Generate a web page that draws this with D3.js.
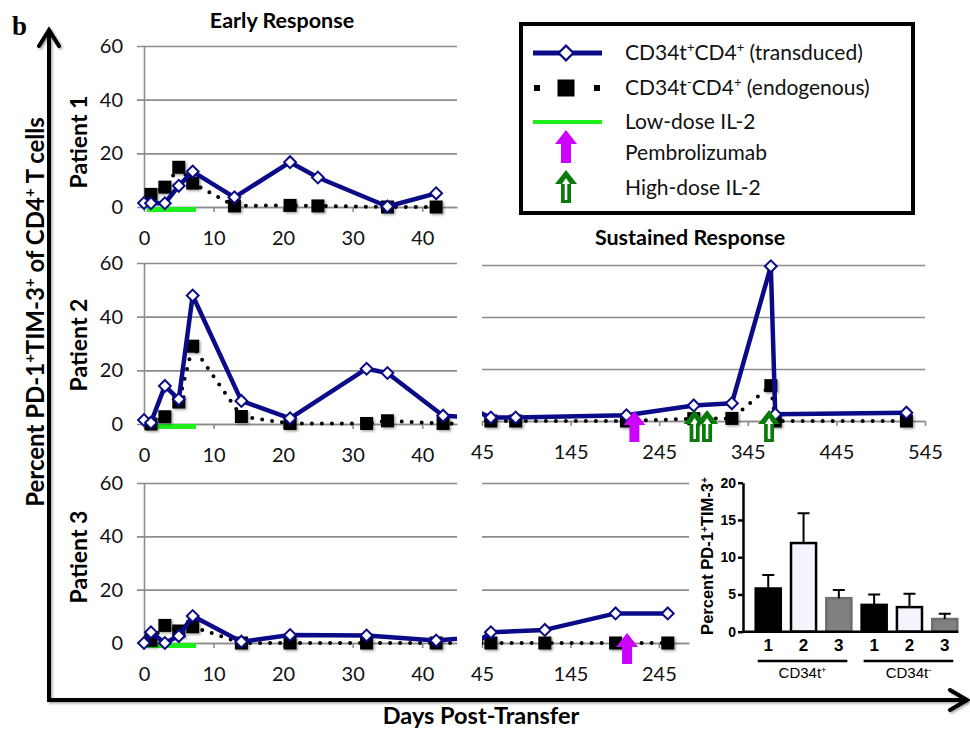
<!DOCTYPE html>
<html>
<head>
<meta charset="utf-8">
<script src="https://cdn.jsdelivr.net/npm/d3@7"></script>
<style>
  body { margin: 0; background: #fff; }
  svg { display: block; font-family: Lato, sans-serif; }
</style>
</head>
<body>
<svg width="970" height="731"></svg>
<script>
// ---- data ----
const yTicks = [0, 20, 40, 60];
const earlyTicks = [0, 10, 20, 30, 40];
const sustainedTicks = [45, 145, 245, 345, 445, 545];
const sustainedTicksP3 = [45, 145, 245];

const p1Days = [0, 1, 3, 5, 7, 13, 21, 25, 35, 42];
const p1Transduced = [1.5, 1.4, 1.4, 7.9, 13.2, 3.6, 16.7, 11, 0.2, 5.1];
const p1Endogenous = [null, 4.7, 7.4, 14.8, 8.9, 0.4, 0.6, 0.4, 0, 0];

const p2Days = [0, 1, 3, 5, 7, 14, 21, 32, 35, 43, 55, 83, 208, 284, 327, 371, 376, 524];
const p2Transduced = [1.5, 0.5, 14.2, 9.2, 47.9, 8.6, 2.1, 20.6, 19, 3.1, 1.3, 1.3, 2.2, 6.0, 6.8, 59.5, 2.6, 3.2];
const p2Endogenous = [null, 0, 2.7, 8.2, 29, 2.8, 0.2, 0.2, 1.2, 0.2, 0, 0, 0, 0.9, 1.0, 13.6, 0, 0];

const p3Days = [0, 1, 3, 5, 7, 14, 21, 32, 42, 55, 116, 196, 255];
const p3Transduced = [0, 4.0, 0, 2.6, 10.1, 0.5, 3.0, 2.8, 0.9, 4.0, 4.9, 11.1, 11.1];
const p3Endogenous = [null, 1, 6.6, 4.5, 6.1, 0, 0, 0, 0, 0, 0, 0, 0];

const lowDoseIL2 = [0.4, 7.5];            // days
const p2Pembrolizumab = [217];
const p2HighDoseIL2 = [285, 299, 369];
const p3Pembrolizumab = [209];

const barLabels = ['1', '2', '3', '1', '2', '3'];
const barMeans = [5.8, 11.9, 4.5, 3.6, 3.3, 1.7];
const barSem = [1.8, 4.0, 1.1, 1.4, 1.8, 0.7];
const barTicks = [0, 5, 10, 15, 20];
const barGroups = [['CD34t', '+', 0, 2], ['CD34t', '-', 3, 5]];

const legendLabels = [
  [['CD34t'], ['+', 1], ['CD4'], ['+', 1], [' (transduced)']],
  [['CD34t'], ['-', 1], ['CD4'], ['+', 1], [' (endogenous)']],
  [['Low-dose IL-2']],
  [['Pembrolizumab']],
  [['High-dose IL-2']]
];

// ---- styles ----
const NAVY = '#0b0b88';
const GRID = '#8c8c8c';
const GREEN = '#1ef01e';
const MAGENTA = '#cc00ff';
const DKGREEN = '#0a7a0a';

const svg = d3.select('svg');
const defs = svg.append('defs');
defs.append('filter').attr('id', 'shadow')
    .attr('x', '-50%').attr('y', '-50%').attr('width', '200%').attr('height', '200%')
  .append('feDropShadow')
    .attr('dx', 1.5).attr('dy', 1.5).attr('stdDeviation', 1)
    .attr('flood-color', '#000').attr('flood-opacity', 0.35);

const rich = (sel, parts) => {
  sel.selectAll('tspan').data(parts).join('tspan')
    .attr('baseline-shift', d => d[1] ? 'super' : null)
    .attr('font-size', d => d[1] ? '62%' : null)
    .text(d => d[0]);
  return sel;
};

// arrow pointing up, tip at (cx, tipY)
const arrowPath = (cx, tipY, h) => {
  const hw = 11, hh = 14, sw = 5;
  return `M${cx},${tipY} L${cx + hw},${tipY + hh} L${cx + sw},${tipY + hh} L${cx + sw},${tipY + h}
          L${cx - sw},${tipY + h} L${cx - sw},${tipY + hh} L${cx - hw},${tipY + hh} Z`;
};
const innerArrowPath = (cx, tipY, h) =>
  `M${cx},${tipY + 8} L${cx + 4},${tipY + 14} L${cx + 1.3},${tipY + 14} L${cx + 1.3},${tipY + h - 3}
   L${cx - 1.3},${tipY + h - 3} L${cx - 1.3},${tipY + 14} L${cx - 4},${tipY + 14} Z`;

const drawArrow = (g, cx, tipY, h, kind) => {
  if (kind === 'pembro') {
    g.append('path').attr('d', arrowPath(cx, tipY, h)).attr('fill', MAGENTA);
  } else {
    g.append('path').attr('d', arrowPath(cx, tipY, h)).attr('fill', DKGREEN);
    g.append('path').attr('d', innerArrowPath(cx, tipY, h)).attr('fill', '#fff');
  }
};

// ---- panels ----
const panels = [
  { days: p1Days, trans: p1Transduced, endo: p1Endogenous, early: true,
    xDomain: [0, 45], xRange: [144, 457], yRange: [207, 46], ticks: earlyTicks },
  { days: p2Days, trans: p2Transduced, endo: p2Endogenous, early: true,
    xDomain: [0, 45], xRange: [144, 457], yRange: [424, 263], ticks: earlyTicks },
  { days: p2Days, trans: p2Transduced, endo: p2Endogenous, early: false,
    xDomain: [45, 545], xRange: [482, 925], yRange: [421, 265], ticks: sustainedTicks,
    pembro: p2Pembrolizumab, highDose: p2HighDoseIL2 },
  { days: p3Days, trans: p3Transduced, endo: p3Endogenous, early: true,
    xDomain: [0, 45], xRange: [144, 457], yRange: [643, 483], ticks: earlyTicks },
  { days: p3Days, trans: p3Transduced, endo: p3Endogenous, early: false,
    xDomain: [45, 279], xRange: [482, 689], yRange: [643, 483], ticks: sustainedTicksP3,
    pembro: p3Pembrolizumab, highDose: [] }
];

panels.forEach((p, i) => {
  const x = d3.scaleLinear().domain(p.xDomain).range(p.xRange);
  const y = d3.scaleLinear().domain([0, 60]).range(p.yRange);
  const w = p.xRange[1] - p.xRange[0];
  const g = svg.append('g');

  const yAxisG = g.append('g')
    .attr('transform', `translate(${p.xRange[0]},0)`)
    .call(d3.axisLeft(y).tickValues(yTicks).tickSize(-w).tickSizeOuter(0).tickPadding(21)
      .tickFormat(p.early ? d3.format('d') : () => ''))
    .attr('font-family', 'Lato, sans-serif').attr('font-size', 20);
  yAxisG.selectAll('.tick line')
    .attr('x1', p.early ? -7 : 0).attr('stroke', GRID).attr('stroke-width', 1.6);
  yAxisG.selectAll('.tick text').attr('fill', '#111');
  if (p.early) yAxisG.select('.domain').attr('stroke', GRID).attr('stroke-width', 1.6);
  else yAxisG.select('.domain').remove();

  const xAxisG = g.append('g')
    .attr('transform', `translate(0,${y(0)})`)
    .call(d3.axisBottom(x).tickValues(p.ticks).tickSize(5).tickSizeOuter(0).tickPadding(19))
    .attr('font-family', 'Lato, sans-serif').attr('font-size', 20);
  xAxisG.selectAll('.tick line').attr('stroke', GRID).attr('stroke-width', 1.6);
  xAxisG.select('.domain').attr('stroke', GRID).attr('stroke-width', 1.6);
  xAxisG.selectAll('.tick text').attr('fill', '#111');

  if (p.early) {
    g.append('rect')
      .attr('x', x(lowDoseIL2[0])).attr('width', x(lowDoseIL2[1]) - x(lowDoseIL2[0]))
      .attr('y', y(0)).attr('height', 5).attr('fill', GREEN);
  }

  const clipId = `clip${i}`;
  defs.append('clipPath').attr('id', clipId).append('rect')
    .attr('x', p.xRange[0] - (p.early ? 10 : 0)).attr('y', p.yRange[1] - 30)
    .attr('width', w + (p.early ? 10 : 0)).attr('height', p.yRange[0] - p.yRange[1] + 60);

  const pts = p.days.map((d, j) => ({ day: d, t: p.trans[j], e: p.endo[j] }));
  const inView = d => d.day >= p.xDomain[0] && d.day <= p.xDomain[1];

  g.append('path').datum(pts)
    .attr('clip-path', `url(#${clipId})`)
    .attr('d', d3.line().defined(d => d.e != null).x(d => x(d.day)).y(d => y(d.e)))
    .attr('fill', 'none').attr('stroke', '#000').attr('stroke-width', 4)
    .attr('stroke-linecap', 'round').attr('stroke-dasharray', '0 10');

  g.selectAll('rect.endo').data(pts.filter(d => d.e != null && inView(d)))
    .join('rect').attr('class', 'endo')
    .attr('x', d => x(d.day) - 6.5).attr('y', d => y(d.e) - 6.5)
    .attr('width', 13).attr('height', 13).attr('fill', '#000')
    .attr('filter', 'url(#shadow)');

  g.append('path').datum(pts)
    .attr('clip-path', `url(#${clipId})`)
    .attr('d', d3.line().x(d => x(d.day)).y(d => y(d.t)))
    .attr('fill', 'none').attr('stroke', NAVY).attr('stroke-width', 4.5)
    .attr('stroke-linejoin', 'round');

  g.selectAll('path.diamond').data(pts.filter(inView))
    .join('path').attr('class', 'diamond')
    .attr('d', d3.symbol(d3.symbolSquare, 70)())
    .attr('transform', d => `translate(${x(d.day)},${y(d.t)}) rotate(45)`)
    .attr('fill', '#fff').attr('stroke', NAVY).attr('stroke-width', 2);

  (p.pembro || []).forEach(d => drawArrow(g, x(d), y(0) - 10, 31, 'pembro'));
  (p.highDose || []).forEach(d => drawArrow(g, x(d), y(0) - 11, 32, 'high'));
});

// ---- legend ----
const lg = svg.append('g');
lg.append('rect').attr('x', 521).attr('y', 24).attr('width', 392).attr('height', 189)
  .attr('fill', '#fff').attr('stroke', '#000').attr('stroke-width', 4);
const rowY = [53, 88, 122, 153, 188];
lg.append('line').attr('x1', 533).attr('x2', 602).attr('y1', rowY[0]).attr('y2', rowY[0])
  .attr('stroke', NAVY).attr('stroke-width', 5);
lg.append('path').attr('d', d3.symbol(d3.symbolSquare, 110)())
  .attr('transform', `translate(566,${rowY[0]}) rotate(45)`)
  .attr('fill', '#fff').attr('stroke', NAVY).attr('stroke-width', 2.2);
[[537, 6], [566, 17], [597, 6]].forEach(([cx, s]) => {
  lg.append('rect').attr('x', cx - s / 2).attr('y', rowY[1] - s / 2)
    .attr('width', s).attr('height', s).attr('fill', '#000');
});
lg.append('line').attr('x1', 533).attr('x2', 602).attr('y1', rowY[2]).attr('y2', rowY[2])
  .attr('stroke', GREEN).attr('stroke-width', 4);
drawArrow(lg, 566, 130, 33, 'pembro');
drawArrow(lg, 566, 170, 33, 'high');
lg.selectAll('text.leg').data(legendLabels).join('text').attr('class', 'leg')
  .attr('x', 625).attr('y', (d, i) => rowY[i] + 7)
  .attr('font-size', 21).attr('fill', '#111')
  .each(function (d) { rich(d3.select(this), d); });

// ---- inset bar chart ----
const bx = d3.scaleBand().domain(d3.range(barMeans.length)).range([743, 970])
  .paddingInner(0.29).paddingOuter(0.36);
const by = d3.scaleLinear().domain([0, 20]).range([631.7, 482.7]);
const barFill = ['#000', '#f4f4fd', '#808080'];
const ig = svg.append('g').attr('font-family', '"Liberation Sans", Arial, sans-serif');

ig.selectAll('rect.bar').data(barMeans).join('rect').attr('class', 'bar')
  .attr('x', (d, i) => bx(i)).attr('width', bx.bandwidth())
  .attr('y', d => by(d)).attr('height', d => by(0) - by(d))
  .attr('fill', (d, i) => barFill[i % 3])
  .attr('stroke', (d, i) => i % 3 === 2 ? '#6e6e6e' : '#000').attr('stroke-width', 2.5);

ig.selectAll('path.err').data(barMeans).join('path').attr('class', 'err')
  .attr('d', (d, i) => {
    const cx = bx(i) + bx.bandwidth() / 2;
    return `M${cx},${by(d)} V${by(d + barSem[i])} M${cx - 6},${by(d + barSem[i])} H${cx + 6}`;
  })
  .attr('stroke', '#000').attr('stroke-width', 2).attr('fill', 'none');

const iyAxis = ig.append('g').attr('transform', 'translate(743,0)')
  .call(d3.axisLeft(by).tickValues(barTicks).tickSize(5).tickSizeOuter(0).tickPadding(2))
  .attr('font-family', '"Liberation Sans", Arial, sans-serif')
  .attr('font-size', 14).attr('font-weight', 'bold');
iyAxis.selectAll('line, path').attr('stroke', '#000').attr('stroke-width', 2.5);
iyAxis.selectAll('text').attr('fill', '#000');

ig.append('line').attr('x1', 742).attr('x2', bx(barMeans.length - 1) + bx.bandwidth() + 1)
  .attr('y1', by(0)).attr('y2', by(0)).attr('stroke', '#000').attr('stroke-width', 2.5);

ig.selectAll('text.cat').data(barLabels).join('text').attr('class', 'cat')
  .attr('x', (d, i) => bx(i) + bx.bandwidth() / 2).attr('y', 651)
  .attr('text-anchor', 'middle').attr('font-size', 17).attr('font-weight', 'bold')
  .text(d => d);

barGroups.forEach(([name, sign, a, b]) => {
  const x0 = bx(a) + 2, x1 = bx(b) + bx.bandwidth() - 4;
  ig.append('line').attr('x1', x0).attr('x2', x1).attr('y1', 661).attr('y2', 661)
    .attr('stroke', '#000').attr('stroke-width', 2.5);
  rich(ig.append('text').attr('x', (x0 + x1) / 2).attr('y', 678)
    .attr('text-anchor', 'middle').attr('font-size', 15), [[name], [sign, 1]]);
});

rich(ig.append('text').attr('transform', 'translate(713,556) rotate(-90)')
  .attr('text-anchor', 'middle').attr('font-size', 16.5).attr('font-weight', 'bold'),
  [['Percent PD-1'], ['+', 1], ['TIM-3'], ['+', 1]]);

// ---- outer axes and labels ----
svg.append('path').attr('d', 'M49,31 V700 H966')
  .attr('fill', 'none').attr('stroke', '#000').attr('stroke-width', 4)
  .attr('filter', 'url(#shadow)');
svg.append('path').attr('d', 'M39,46 L49,30 L59,46 M950,690 L967,700 L950,710')
  .attr('fill', 'none').attr('stroke', '#000').attr('stroke-width', 4)
  .attr('stroke-linecap', 'round').attr('filter', 'url(#shadow)');

svg.append('text').attr('x', 12).attr('y', 35)
  .attr('font-family', '"Liberation Serif", serif').attr('font-weight', 'bold')
  .attr('font-size', 27).text('b');

svg.append('text').attr('x', 282).attr('y', 28).attr('text-anchor', 'middle')
  .attr('font-weight', 'bold').attr('font-size', 21.5).text('Early Response');
svg.append('text').attr('x', 690).attr('y', 245).attr('text-anchor', 'middle')
  .attr('font-weight', 'bold').attr('font-size', 21.5).text('Sustained Response');

[['Patient 1', 142], ['Patient 2', 345], ['Patient 3', 557]].forEach(([t, cy]) => {
  svg.append('text').attr('transform', `translate(87,${cy}) rotate(-90)`)
    .attr('text-anchor', 'middle').attr('font-weight', 'bold').attr('font-size', 23).text(t);
});

rich(svg.append('text').attr('transform', 'translate(44,312) rotate(-90)')
  .attr('text-anchor', 'middle').attr('font-weight', 'bold').attr('font-size', 24),
  [['Percent PD-1'], ['+', 1], ['TIM-3'], ['+', 1], [' of CD4'], ['+', 1], [' T cells']]);

svg.append('text').attr('x', 481).attr('y', 724).attr('text-anchor', 'middle')
  .attr('font-weight', 'bold').attr('font-size', 23.5).text('Days Post-Transfer');
</script>
</body>
</html>
